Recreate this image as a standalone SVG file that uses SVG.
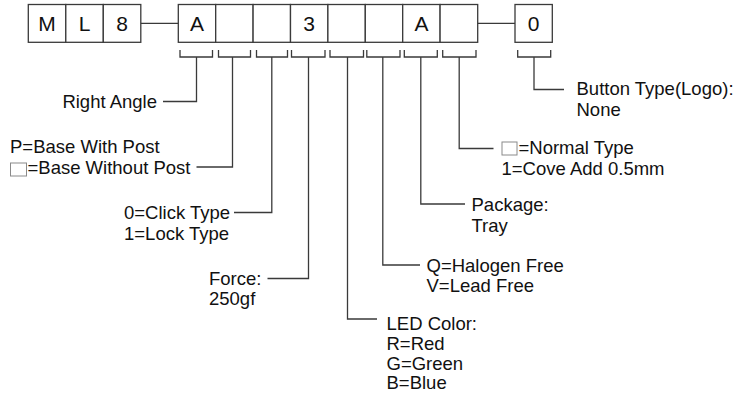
<svg xmlns="http://www.w3.org/2000/svg" width="740" height="397" viewBox="0 0 740 397">
<style>
.box{fill:#fff;stroke:#3a3a3a;stroke-width:1.3}
.code{font-family:"Liberation Sans",Arial,sans-serif;font-size:21px;fill:#111;text-anchor:middle}
.lbl{font-family:"Liberation Sans",Arial,sans-serif;font-size:18.5px;fill:#111}
.ln{fill:none;stroke:#3a3a3a;stroke-width:1.3}
.ico{fill:#fff;stroke:#8a8a8a;stroke-width:1}
</style>
<rect width="740" height="397" fill="#fff"/>
<g id="code">
<g id="box-M"><rect class="box" x="28.3" y="4.5" width="37.5" height="37.8"/><text class="code" x="47" y="31">M</text></g>
<g id="box-L"><rect class="box" x="65.8" y="4.5" width="37.5" height="37.8"/><text class="code" x="84.5" y="31">L</text></g>
<g id="box-8"><rect class="box" x="103.3" y="4.5" width="37.5" height="37.8"/><text class="code" x="122" y="31">8</text></g>
<g id="box-A1"><rect class="box" x="178.3" y="4.5" width="37.4" height="37.8"/><text class="code" x="197" y="31">A</text></g>
<g id="box-2"><rect class="box" x="215.7" y="4.5" width="37.4" height="37.8"/></g>
<g id="box-3a"><rect class="box" x="253.1" y="4.5" width="37.4" height="37.8"/></g>
<g id="box-3"><rect class="box" x="290.5" y="4.5" width="37.4" height="37.8"/><text class="code" x="309.2" y="31">3</text></g>
<g id="box-5"><rect class="box" x="327.9" y="4.5" width="37.4" height="37.8"/></g>
<g id="box-6"><rect class="box" x="365.3" y="4.5" width="37.4" height="37.8"/></g>
<g id="box-A2"><rect class="box" x="402.7" y="4.5" width="37.4" height="37.8"/><text class="code" x="421.4" y="31">A</text></g>
<g id="box-8b"><rect class="box" x="440.1" y="4.5" width="37.6" height="37.8"/></g>
<g id="box-0"><rect class="box" x="515" y="4.5" width="37.3" height="37.8"/><text class="code" x="533.7" y="31">0</text></g>
</g>
<g id="connectors">
<path class="ln" d="M140.8 23.3H178.3M477.7 23.3H515"/>
<path class="ln" d="M180 50V57H212.5V50M196.5 57V101.5H163"/>
<path class="ln" d="M218.5 50V57H250.5V50M232.5 57V167H196.5"/>
<path class="ln" d="M256.5 50V57H287.5V50M271.8 57V212.5H234"/>
<path class="ln" d="M291.5 50V57H325V50M308.5 57V278.5H267.5"/>
<path class="ln" d="M330 50V57H363.5V50M347.5 57V319H377"/>
<path class="ln" d="M366.8 50V57H400V50M382.8 57V265H420"/>
<path class="ln" d="M404.3 50V57H437.3V50M420.8 57V204H465"/>
<path class="ln" d="M442.7 50V57H476V50M459.2 57V148.5H493.5"/>
<path class="ln" d="M517.7 50V57H550.7V50M534 57V89.5H564"/>
</g>
<g id="lbl-right-angle"><text class="lbl" x="157" y="107.5" text-anchor="end">Right Angle</text></g>
<g id="lbl-post"><text class="lbl" x="10" y="152.5">P=Base With Post</text><rect class="ico" x="10.5" y="163" width="16" height="13"/><text class="lbl" x="27.5" y="174">=Base Without Post</text></g>
<g id="lbl-type"><text class="lbl" x="124" y="218.5">0=Click Type</text><text class="lbl" x="124" y="239.5">1=Lock Type</text></g>
<g id="lbl-force"><text class="lbl" x="209" y="285">Force:</text><text class="lbl" x="209" y="305">250gf</text></g>
<g id="lbl-led"><text class="lbl" x="386.5" y="330">LED Color:</text><text class="lbl" x="386.5" y="349.5">R=Red</text><text class="lbl" x="386.5" y="369.5">G=Green</text><text class="lbl" x="386.5" y="389">B=Blue</text></g>
<g id="lbl-halogen"><text class="lbl" x="426.5" y="271.5">Q=Halogen Free</text><text class="lbl" x="426.5" y="291.5">V=Lead Free</text></g>
<g id="lbl-package"><text class="lbl" x="471.5" y="211">Package:</text><text class="lbl" x="471.5" y="232">Tray</text></g>
<g id="lbl-cove"><rect class="ico" x="502" y="142" width="15" height="13"/><text class="lbl" x="518.5" y="154">=Normal Type</text><text class="lbl" x="501.5" y="174.5">1=Cove Add 0.5mm</text></g>
<g id="lbl-button"><text class="lbl" x="576.5" y="95">Button Type(Logo):</text><text class="lbl" x="576.5" y="115.5">None</text></g>
</svg>
